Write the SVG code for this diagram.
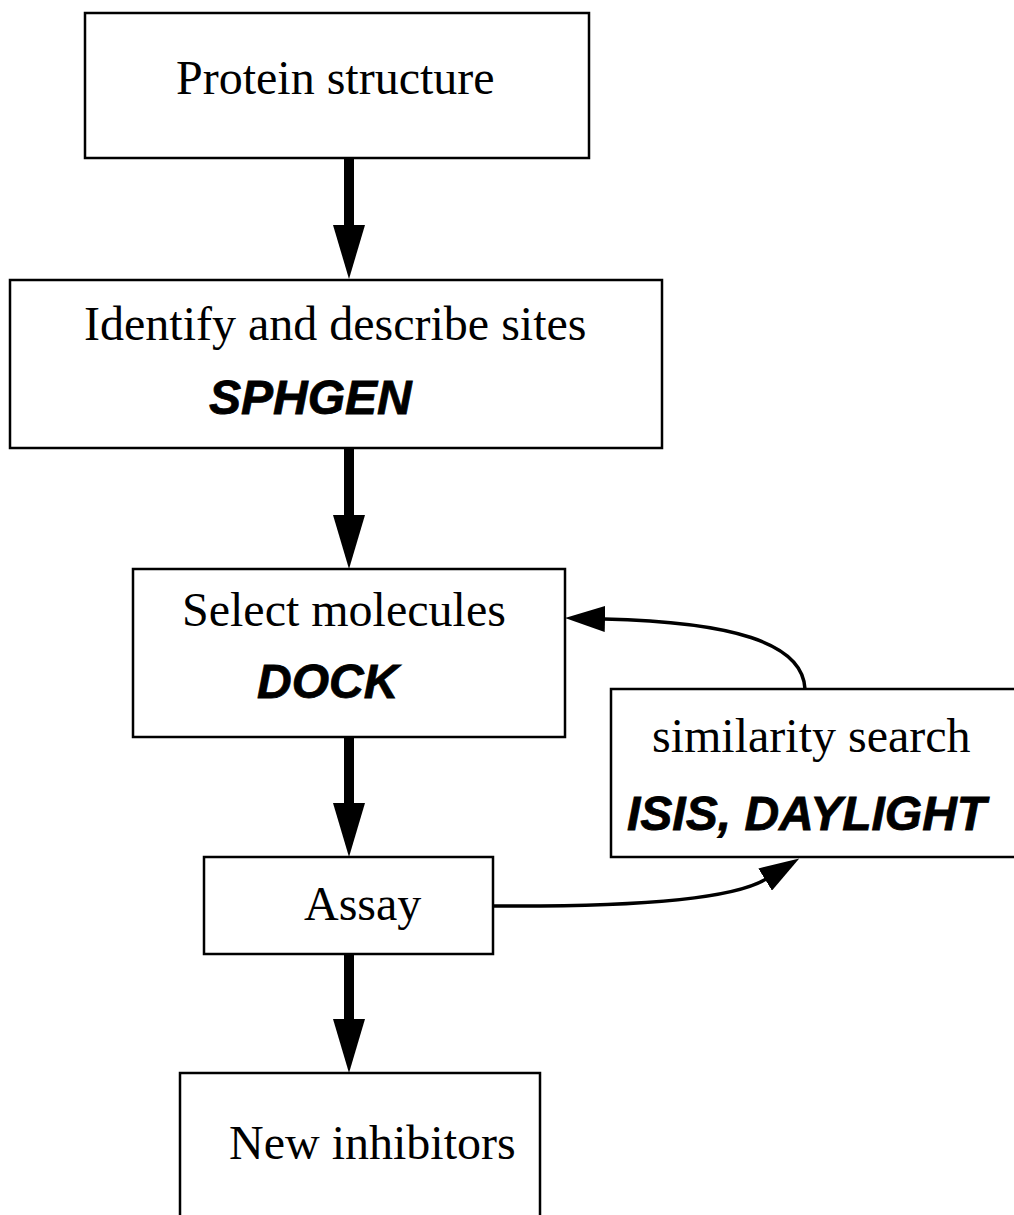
<svg xmlns="http://www.w3.org/2000/svg" width="1014" height="1215" viewBox="0 0 1014 1215">
  <style>
    .box { fill: #ffffff; stroke: #000000; stroke-width: 2.5; }
    .lbl { font-family: "Liberation Serif", "Times New Roman", serif; font-size: 48px; fill: #000000; }
    .tool { font-family: "Liberation Sans", Arial, sans-serif; font-size: 48px; font-weight: bold; font-style: italic; fill: #000000; stroke: #000000; stroke-width: 0.8; }
    .shaft { stroke: #000000; stroke-width: 10; fill: none; }
    .head { fill: #000000; }
    .curve { stroke: #000000; stroke-width: 3.5; fill: none; marker-end: url(#ah); }
  </style>
  <defs>
    <marker id="ah" viewBox="0 0 40 26" refX="1" refY="13" markerWidth="40" markerHeight="26" markerUnits="userSpaceOnUse" orient="auto">
      <path d="M0,0 L40,13 L0,26 Z" fill="#000000"/>
    </marker>
  </defs>
  <rect width="1014" height="1215" fill="#ffffff"/>

  <g id="node-protein">
    <rect class="box" x="85" y="13" width="504" height="145"/>
    <text class="lbl" x="176" y="94">Protein structure</text>
  </g>

  <g id="node-identify">
    <rect class="box" x="10" y="280" width="652" height="168"/>
    <text class="lbl" x="84" y="340">Identify and describe sites</text>
    <text class="tool" x="209" y="414">SPHGEN</text>
  </g>

  <g id="node-select">
    <rect class="box" x="133" y="569" width="432" height="168"/>
    <text class="lbl" x="182" y="626">Select molecules</text>
    <text class="tool" x="257" y="698">DOCK</text>
  </g>

  <g id="node-similarity">
    <rect class="box" x="611" y="689" width="420" height="168"/>
    <text class="lbl" x="652" y="752">similarity search</text>
    <text class="tool" x="627" y="830">ISIS, DAYLIGHT</text>
  </g>

  <g id="node-assay">
    <rect class="box" x="204" y="857" width="289" height="97"/>
    <text class="lbl" x="304" y="920">Assay</text>
  </g>

  <g id="node-inhibitors">
    <rect class="box" x="180" y="1073" width="360" height="160"/>
    <text class="lbl" x="229" y="1159">New inhibitors</text>
  </g>

  <g id="connectors">
    <line class="shaft" x1="349" y1="158" x2="349" y2="230"/>
    <polygon class="head" points="333,225 365,225 349,279"/>

    <line class="shaft" x1="349" y1="448" x2="349" y2="520"/>
    <polygon class="head" points="333,515 365,515 349,569"/>

    <line class="shaft" x1="349" y1="737" x2="349" y2="808"/>
    <polygon class="head" points="333,803 365,803 349,857"/>

    <line class="shaft" x1="349" y1="954" x2="349" y2="1024"/>
    <polygon class="head" points="333,1019 365,1019 349,1073"/>

    <path class="curve" d="M805,689 C803,642 730,622 604,619"/>
    <path class="curve" d="M493,906 C640,907 735,898 766,879"/>
  </g>
</svg>
